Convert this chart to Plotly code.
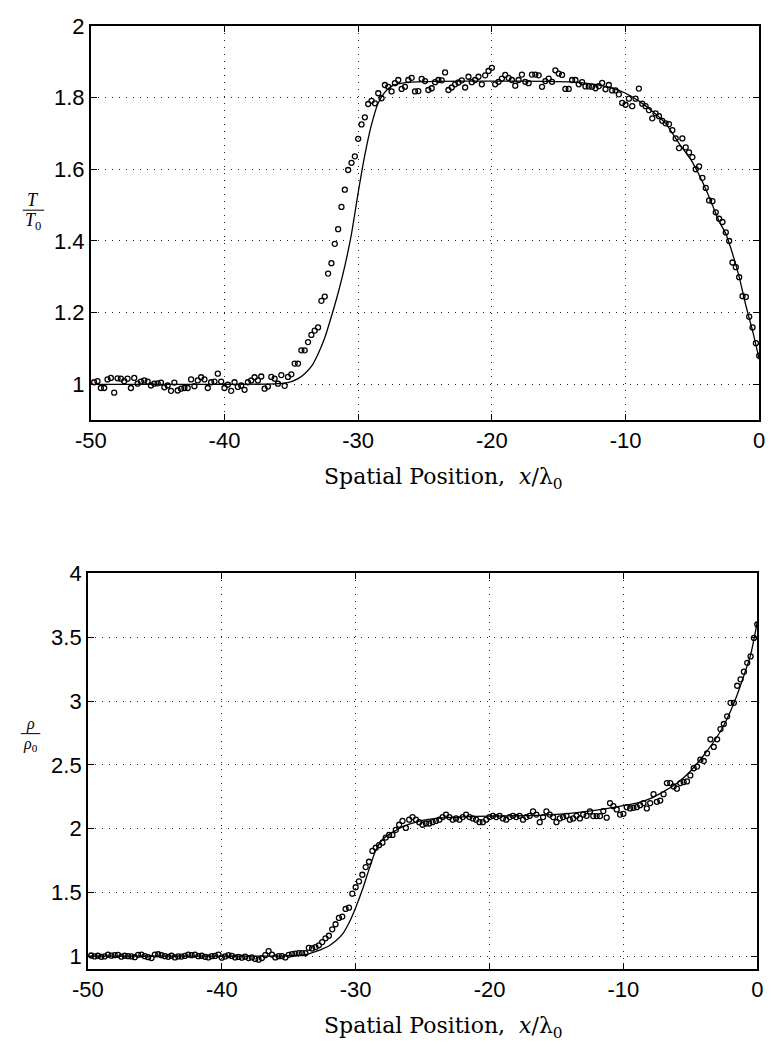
import plotly.graph_objects as go

# ---------------- data ----------------
# sample positions of the measured (circle) data, x / lambda_0
X_PTS = [
    -49.75, -49.5, -49.25, -49.0, -48.75, -48.5, -48.25, -48.0, -47.75, -47.5,
    -47.25, -47.0, -46.75, -46.5, -46.25, -46.0, -45.75, -45.5, -45.25, -45.0,
    -44.75, -44.5, -44.25, -44.0, -43.75, -43.5, -43.25, -43.0, -42.75, -42.5,
    -42.25, -42.0, -41.75, -41.5, -41.25, -41.0, -40.75, -40.5, -40.25, -40.0,
    -39.75, -39.5, -39.25, -39.0, -38.75, -38.5, -38.25, -38.0, -37.75, -37.5,
    -37.25, -37.0, -36.75, -36.5, -36.25, -36.0, -35.75, -35.5, -35.25, -35.0,
    -34.75, -34.5, -34.25, -34.0, -33.75, -33.5, -33.25, -33.0, -32.75, -32.5,
    -32.25, -32.0, -31.75, -31.5, -31.25, -31.0, -30.75, -30.5, -30.25, -30.0,
    -29.75, -29.5, -29.25, -29.0, -28.75, -28.5, -28.25, -28.0, -27.75, -27.5,
    -27.25, -27.0, -26.75, -26.5, -26.25, -26.0, -25.75, -25.5, -25.25, -25.0,
    -24.75, -24.5, -24.25, -24.0, -23.75, -23.5, -23.25, -23.0, -22.75, -22.5,
    -22.25, -22.0, -21.75, -21.5, -21.25, -21.0, -20.75, -20.5, -20.25, -20.0,
    -19.75, -19.5, -19.25, -19.0, -18.75, -18.5, -18.25, -18.0, -17.75, -17.5,
    -17.25, -17.0, -16.75, -16.5, -16.25, -16.0, -15.75, -15.5, -15.25, -15.0,
    -14.75, -14.5, -14.25, -14.0, -13.75, -13.5, -13.25, -13.0, -12.75, -12.5,
    -12.25, -12.0, -11.75, -11.5, -11.25, -11.0, -10.75, -10.5, -10.25, -10.0,
    -9.75, -9.5, -9.25, -9.0, -8.75, -8.5, -8.25, -8.0, -7.75, -7.5,
    -7.25, -7.0, -6.75, -6.5, -6.25, -6.0, -5.75, -5.5, -5.25, -5.0,
    -4.75, -4.5, -4.25, -4.0, -3.75, -3.5, -3.25, -3.0, -2.75, -2.5,
    -2.25, -2.0, -1.75, -1.5, -1.25, -1.0, -0.75, -0.5, -0.25, 0.0,
]

# measured temperature T/T0 (circles)
T_PTS = [
    1.006, 1.009, 0.990, 0.990, 1.014, 1.018, 0.977, 1.017, 1.016, 1.009,
    1.016, 0.990, 1.018, 1.002, 1.008, 1.011, 1.008, 0.997, 1.002, 1.003,
    1.005, 0.992, 0.997, 0.982, 1.005, 0.983, 0.988, 0.990, 0.990, 1.014,
    0.995, 1.011, 1.020, 1.014, 0.990, 1.006, 1.008, 1.030, 1.008, 0.990,
    0.999, 0.982, 1.006, 0.993, 0.997, 0.985, 1.006, 1.011, 1.020, 1.011,
    1.022, 0.988, 0.994, 1.021, 1.016, 1.002, 1.026, 0.996, 1.021, 1.028,
    1.058, 1.058, 1.095, 1.095, 1.118, 1.138, 1.150, 1.159, 1.233, 1.245,
    1.309, 1.338, 1.392, 1.433, 1.495, 1.543, 1.598, 1.618, 1.636, 1.685,
    1.725, 1.745, 1.782, 1.791, 1.784, 1.812, 1.798, 1.835, 1.830, 1.817,
    1.840, 1.849, 1.824, 1.830, 1.849, 1.855, 1.817, 1.818, 1.852, 1.846,
    1.821, 1.826, 1.843, 1.849, 1.848, 1.870, 1.821, 1.828, 1.837, 1.842,
    1.848, 1.828, 1.858, 1.843, 1.849, 1.858, 1.837, 1.862, 1.874, 1.883,
    1.837, 1.844, 1.853, 1.863, 1.855, 1.849, 1.833, 1.849, 1.864, 1.844,
    1.840, 1.864, 1.864, 1.862, 1.830, 1.846, 1.853, 1.844, 1.876, 1.867,
    1.863, 1.824, 1.824, 1.849, 1.849, 1.837, 1.843, 1.831, 1.831, 1.830,
    1.826, 1.832, 1.841, 1.823, 1.835, 1.820, 1.820, 1.809, 1.785, 1.780,
    1.797, 1.776, 1.797, 1.825, 1.783, 1.776, 1.765, 1.742, 1.756, 1.748,
    1.735, 1.728, 1.726, 1.709, 1.686, 1.659, 1.686, 1.661, 1.647, 1.634,
    1.600, 1.608, 1.576, 1.548, 1.513, 1.511, 1.480, 1.462, 1.453, 1.424,
    1.400, 1.340, 1.327, 1.299, 1.246, 1.244, 1.189, 1.159, 1.115, 1.080,
]

# measured density rho/rho0 (circles)
RHO_PTS = [
    1.005, 0.998, 1.003, 0.995, 0.998, 1.012, 1.004, 1.008, 1.010, 0.996,
    1.003, 1.000, 0.998, 0.992, 1.010, 1.012, 1.000, 0.992, 0.985, 1.012,
    1.015, 1.008, 1.000, 0.995, 1.003, 0.990, 0.998, 0.997, 1.002, 1.012,
    1.008, 1.012, 1.000, 1.003, 0.995, 0.990, 1.000, 1.002, 1.012, 0.988,
    0.998, 1.008, 1.002, 0.990, 0.994, 0.988, 0.996, 0.985, 0.990, 0.978,
    0.972, 0.985, 1.008, 1.040, 1.012, 0.990, 1.000, 1.000, 0.990, 1.010,
    1.016, 1.020, 1.023, 1.023, 1.023, 1.065, 1.060, 1.070, 1.085, 1.110,
    1.140, 1.160, 1.210, 1.250, 1.300, 1.310, 1.370, 1.380, 1.490, 1.540,
    1.586, 1.638, 1.698, 1.740, 1.825, 1.850, 1.870, 1.890, 1.930, 1.950,
    1.950, 1.990, 2.030, 2.060, 2.005, 2.070, 2.090, 2.070, 2.050, 2.030,
    2.040, 2.040, 2.050, 2.060, 2.070, 2.090, 2.110, 2.090, 2.070, 2.080,
    2.070, 2.090, 2.110, 2.090, 2.080, 2.070, 2.050, 2.050, 2.070, 2.090,
    2.100, 2.090, 2.100, 2.080, 2.070, 2.090, 2.100, 2.090, 2.100, 2.070,
    2.090, 2.100, 2.135, 2.110, 2.050, 2.090, 2.135, 2.110, 2.090, 2.050,
    2.080, 2.090, 2.100, 2.070, 2.080, 2.100, 2.080, 2.110, 2.100, 2.135,
    2.098, 2.098, 2.098, 2.137, 2.086, 2.200, 2.176, 2.150, 2.110, 2.116,
    2.168, 2.158, 2.163, 2.168, 2.184, 2.200, 2.158, 2.200, 2.270, 2.210,
    2.220, 2.270, 2.357, 2.357, 2.330, 2.313, 2.357, 2.365, 2.370, 2.417,
    2.473, 2.486, 2.540, 2.530, 2.590, 2.700, 2.640, 2.700, 2.780, 2.820,
    2.880, 2.986, 2.986, 3.120, 3.170, 3.230, 3.300, 3.350, 3.495, 3.600,
]

# model curves (solid lines)
X_LINE_T = [-50, -40, -36, -35, -34.5, -34, -33.5, -33, -32.5, -32, -31.5, -31,
            -30.5, -30, -29.5, -29, -28.5, -28, -27.5, -27, -26, -24, -20, -16,
            -14, -12, -11, -10, -9, -8, -7, -6, -5, -4, -3, -2.5, -2, -1.5, -1,
            -0.5, 0]
T_LINE = [1.0, 1.0, 1.002, 1.008, 1.016, 1.03, 1.05, 1.085, 1.13, 1.19, 1.255, 1.33,
          1.42, 1.535, 1.64, 1.725, 1.785, 1.815, 1.832, 1.838, 1.843, 1.845, 1.846, 1.845,
          1.843, 1.835, 1.826, 1.812, 1.79, 1.762, 1.728, 1.672, 1.62, 1.545, 1.455, 1.42,
          1.365, 1.30, 1.22, 1.15, 1.07]

X_LINE_RHO = [-50, -40, -36, -35, -34.5, -34, -33.5, -33, -32.5, -32, -31.5, -31,
              -30.5, -30, -29.5, -29, -28.5, -28, -27.5, -27, -26.5, -26, -25, -24,
              -22, -20, -18, -16, -14, -12, -10, -9, -8, -7, -6, -5, -4, -3, -2.5,
              -2, -1.5, -1, -0.5, 0]
RHO_LINE = [1.0, 1.0, 1.0, 1.003, 1.005, 1.008, 1.018, 1.035, 1.055, 1.08, 1.118, 1.17,
            1.26, 1.38, 1.52, 1.68, 1.83, 1.915, 1.955, 1.985, 2.013, 2.035, 2.065, 2.08,
            2.092, 2.098, 2.10, 2.105, 2.12, 2.145, 2.18, 2.20, 2.235, 2.29, 2.355, 2.45,
            2.575, 2.72, 2.81, 2.92, 3.05, 3.20, 3.36, 3.62]

X_TICKS = [-50, -40, -30, -20, -10, 0]
X_TICK_TEXT = ["-50", "-40", "-30", "-20", "-10", "0"]
T_TICKS = [1, 1.2, 1.4, 1.6, 1.8, 2]
T_TICK_TEXT = ["1", "1.2", "1.4", "1.6", "1.8", "2"]
RHO_TICKS = [1, 1.5, 2, 2.5, 3, 3.5, 4]
RHO_TICK_TEXT = ["1", "1.5", "2", "2.5", "3", "3.5", "4"]

# ---------------- figure ----------------
W, H = 773, 1047
fig = go.Figure()

marker_style = dict(symbol="circle-open", size=5, color="black", line=dict(width=1.3, color="black"))
line_style = dict(color="black", width=1.3)

fig.add_trace(go.Scatter(x=X_PTS, y=T_PTS, mode="markers", marker=marker_style,
                         xaxis="x", yaxis="y", showlegend=False, cliponaxis=True))
fig.add_trace(go.Scatter(x=X_LINE_T, y=T_LINE, mode="lines", line=dict(**line_style, shape="spline", smoothing=0.6),
                         xaxis="x", yaxis="y", showlegend=False))
fig.add_trace(go.Scatter(x=X_PTS, y=RHO_PTS, mode="markers", marker=marker_style,
                         xaxis="x2", yaxis="y2", showlegend=False, cliponaxis=True))
fig.add_trace(go.Scatter(x=X_LINE_RHO, y=RHO_LINE, mode="lines", line=dict(**line_style, shape="spline", smoothing=0.6),
                         xaxis="x2", yaxis="y2", showlegend=False))

tick_font = dict(family="Liberation Sans, Arial, sans-serif", size=22, color="black")
common_axis = dict(
    showline=True, linecolor="black", linewidth=1.6, mirror="ticks",
    ticks="inside", ticklen=6, tickwidth=1.2, tickcolor="black",
    showgrid=True, gridcolor="#222", gridwidth=1, griddash="1px,6px",
    zeroline=False, tickfont=tick_font, layer="above traces",
)

# pixel boxes -> paper domains
def xdom(l, r):
    return [l / W, r / W]

def ydom(t, b):
    return [1 - b / H, 1 - t / H]

fig.update_layout(
    width=W, height=H,
    margin=dict(l=0, r=0, t=0, b=0),
    paper_bgcolor="white", plot_bgcolor="white",
    xaxis=dict(domain=xdom(77, 765), range=[-50, 0], tickvals=X_TICKS, ticktext=X_TICK_TEXT,
               anchor="y", **common_axis),
    yaxis=dict(domain=ydom(14, 413), range=[0.9, 2], tickvals=T_TICKS, ticktext=T_TICK_TEXT,
               anchor="x", **common_axis),
    xaxis2=dict(domain=xdom(74, 763), range=[-50, 0], tickvals=X_TICKS, ticktext=X_TICK_TEXT,
                anchor="y2", **common_axis),
    yaxis2=dict(domain=ydom(568, 968), range=[0.9, 4], tickvals=RHO_TICKS, ticktext=RHO_TICK_TEXT,
                anchor="x2", **common_axis),
)

serif = "DejaVu Serif, Liberation Serif, serif"
title_text = "Spatial Position,  <i>x</i>/λ<sub>0</sub>"
frac_font = dict(family="Liberation Serif, serif", size=18, color="black")
rho_font = dict(family="Liberation Serif, serif", size=16, color="black")
annotations = [
    dict(text=title_text, x=440 / W, y=1 - 472 / H, xref="paper", yref="paper",
         showarrow=False, font=dict(family=serif, size=22, color="black"), xanchor="center", yanchor="middle"),
    dict(text=title_text, x=440 / W, y=1 - 1027 / H, xref="paper", yref="paper",
         showarrow=False, font=dict(family=serif, size=22, color="black"), xanchor="center", yanchor="middle"),
    # T / T0
    dict(text="<i>T</i>", x=18 / W, y=1 - 190 / H, xref="paper", yref="paper",
         showarrow=False, font=frac_font, xanchor="center", yanchor="middle"),
    dict(text="<i>T</i><sub>0</sub>", x=18 / W, y=1 - 212 / H, xref="paper", yref="paper",
         showarrow=False, font=frac_font, xanchor="center", yanchor="middle"),
    # rho / rho0
    dict(text="<i>ρ</i>", x=15 / W, y=1 - 720 / H, xref="paper", yref="paper",
         showarrow=False, font=rho_font, xanchor="center", yanchor="middle"),
    dict(text="<i>ρ</i><sub>0</sub>", x=15 / W, y=1 - 741 / H, xref="paper", yref="paper",
         showarrow=False, font=rho_font, xanchor="center", yanchor="middle"),
]
fig.update_layout(annotations=annotations)

shapes = [
    dict(type="line", xref="paper", yref="paper", x0=7 / W, x1=29 / W, y0=1 - 200.5 / H, y1=1 - 200.5 / H,
         line=dict(color="black", width=1)),
    dict(type="line", xref="paper", yref="paper", x0=5 / W, x1=25 / W, y0=1 - 730 / H, y1=1 - 730 / H,
         line=dict(color="black", width=1)),
]
fig.update_layout(shapes=shapes)

fig.write_html("out.html")
